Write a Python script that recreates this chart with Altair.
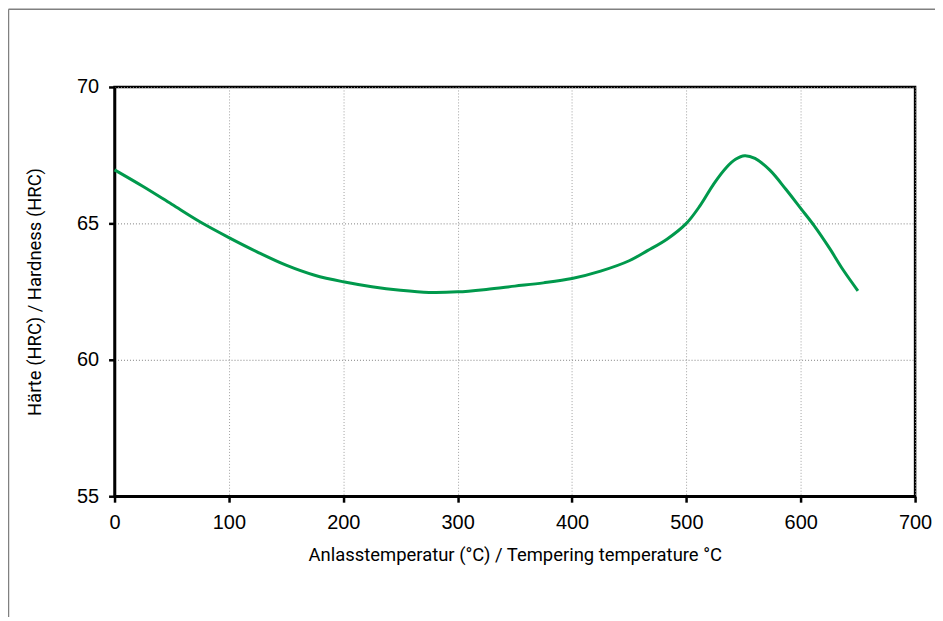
import altair as alt
import pandas as pd

# Tempering temperature (°C) and hardness (HRC)
temperature = [0, 25, 50, 75, 100, 125, 150, 175, 200, 225, 250, 275, 300, 325,
               350, 375, 400, 425, 450, 466, 483, 500, 512, 524, 535, 543, 551,
               560, 573, 587, 600, 612, 625, 637, 650]
hardness = [66.96, 66.35, 65.7, 65.05, 64.48, 63.95, 63.47, 63.1, 62.86, 62.68,
            62.55, 62.47, 62.49, 62.58, 62.70, 62.82, 62.98, 63.25, 63.63, 64.0,
            64.42, 65.0, 65.65, 66.45, 67.05, 67.35, 67.48,
            67.38, 66.95, 66.25, 65.55, 64.9, 64.1, 63.3, 62.53]

x_ticks = [0, 100, 200, 300, 400, 500, 600, 700]
y_ticks = [55, 60, 65, 70]

x_title = "Anlasstemperatur (°C) / Tempering temperature °C"
y_title = "Härte (HRC) / Hardness (HRC)"

df = pd.DataFrame({"T": temperature, "HRC": hardness})

W, H = 804, 411
TITLE_FONT = "Roboto, sans-serif"
LABEL_FONT = "Liberation Sans, Arial, sans-serif"

line = alt.Chart(df).mark_line(
    color="#00994c", strokeWidth=3, interpolate="catmull-rom"
).encode(
    x=alt.X(
        "T:Q",
        scale=alt.Scale(domain=[0, 700], nice=False),
        axis=alt.Axis(
            values=x_ticks, title=x_title, format="d",
            grid=True, gridColor="#a0a0a0", gridDash=[1, 2], gridWidth=1,
            domainColor="black", domainWidth=2.5,
            tickColor="black", tickWidth=2.5, tickSize=6,
            labelFont=LABEL_FONT, labelFontSize=20, labelColor="black",
            labelPadding=10, labelFlush=False, labelOverlap=False,
            titleFont=TITLE_FONT, titleFontSize=18.5, titleFontWeight="normal",
            titleColor="black", titlePadding=14,
        ),
    ),
    y=alt.Y(
        "HRC:Q",
        scale=alt.Scale(domain=[55, 70], nice=False, zero=False),
        axis=alt.Axis(
            values=y_ticks, title=y_title, format="d",
            grid=True, gridColor="#808080", gridDash=[1, 2], gridWidth=1,
            domainColor="black", domainWidth=2.5,
            tickColor="black", tickWidth=2.5, tickSize=6,
            labelFont=LABEL_FONT, labelFontSize=20, labelColor="black",
            labelPadding=10, labelFlush=False, labelOverlap=False,
            titleFont=TITLE_FONT, titleFontSize=18.5, titleFontWeight="normal",
            titleColor="black", titlePadding=32,
        ),
    ),
)

frame_df = pd.DataFrame({"a": [0]})
top_frame = alt.Chart(frame_df).mark_rule(color="#808080", strokeWidth=1.5).encode(
    x=alt.value(-106.5), x2=alt.value(W + 40), y=alt.value(-78)
)
left_frame = alt.Chart(frame_df).mark_rule(color="#808080", strokeWidth=1.5).encode(
    x=alt.value(-106.5), y=alt.value(-78), y2=alt.value(H + 130)
)

chart = alt.layer(top_frame, left_frame, line).properties(
    width=W, height=H,
    autosize=alt.AutoSizeParams(type="none"),
    padding={"left": 107, "top": 78, "right": 20, "bottom": 120},
    background="white",
).configure_view(stroke="black", strokeWidth=2.5)

chart.save("out.html", embed_options={"renderer": "svg", "actions": False})
